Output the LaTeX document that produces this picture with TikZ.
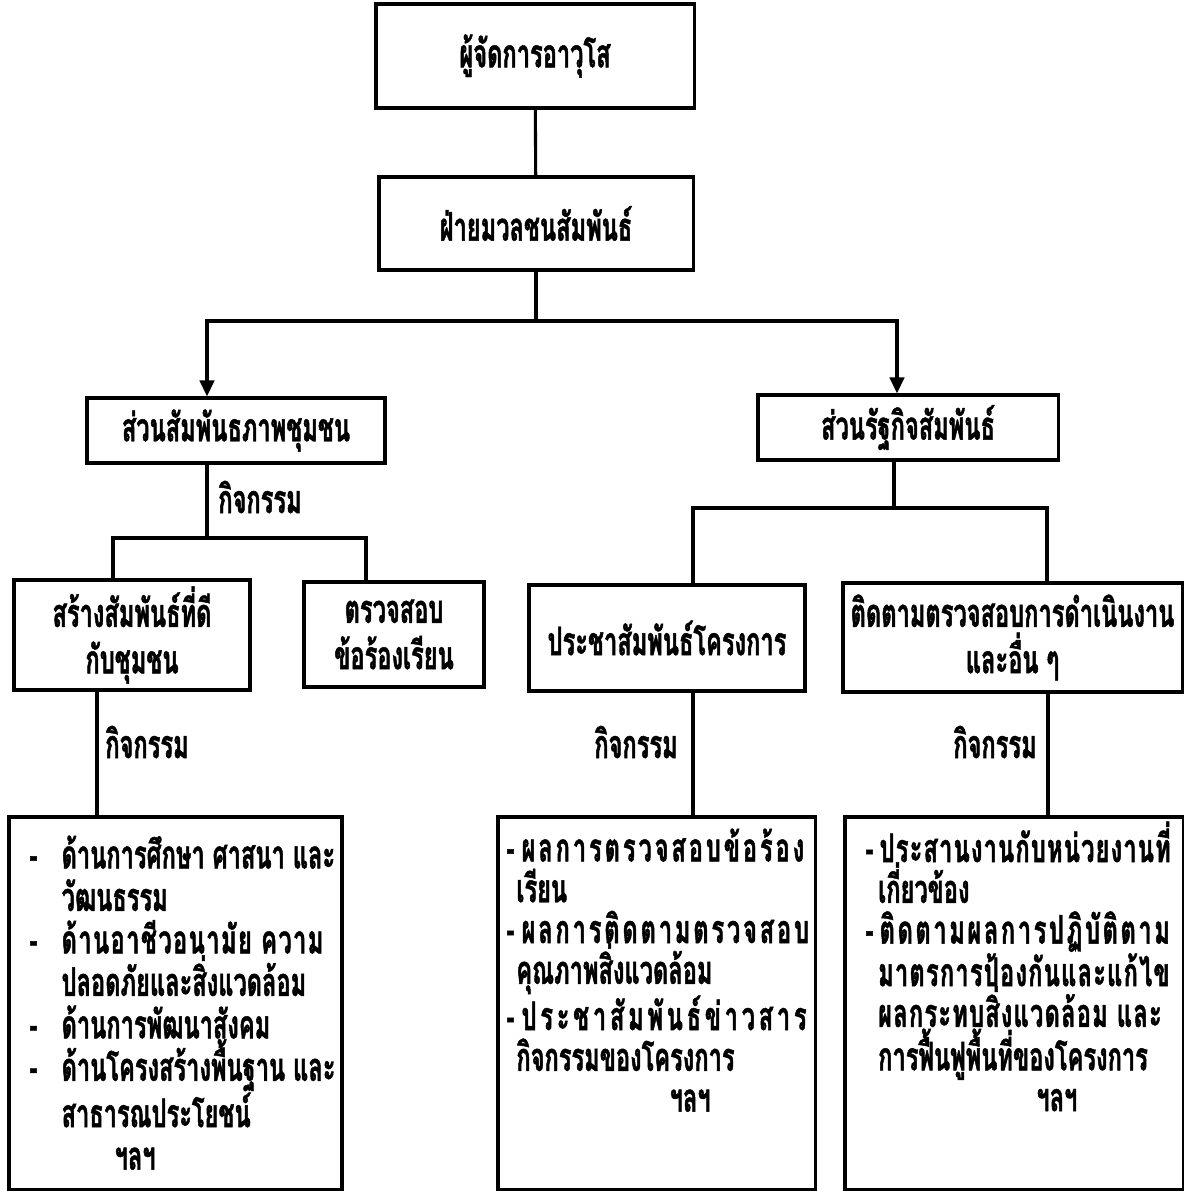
\documentclass[tikz,border=0pt]{standalone}
\usepackage{fontspec}
\newfontfamily\thaifont[Script=Thai, FakeStretch=0.6, BoldFeatures={FakeBold=1.2}]{Loma}
\usetikzlibrary{arrows.meta}

\begin{document}
\begin{tikzpicture}[>={Triangle[length=4mm, width=3.6mm]}, x=0.025cm, y=-0.025cm, line width=2.2pt,
    font=\thaifont\bfseries\fontsize{28}{33}\selectfont]
        \tikzstyle{box}=[draw, line width=2.2pt, align=center, inner sep=0pt]
        \tikzstyle{lbl}=[inner sep=0pt]
        \tikzstyle{lst}=[align=left, inner sep=0pt, anchor=north west]

        \useasboundingbox (0,0) rectangle (1184,1191);

        % Boxes
        \node[box, minimum width=7.95cm, minimum height=2.6cm] (top) at (535,56) {ผู้จัดการอาวุโส};
        \node[box, minimum width=7.85cm, minimum height=2.325cm] (fai) at (536,223.5) {ฝ่ายมวลชนสัมพันธ์};
        \node[box, minimum width=7.45cm, minimum height=1.625cm] (sm) at (236,430.5) {ส่วนสัมพันธภาพชุมชน};
        \node[box, minimum width=7.5cm, minimum height=1.625cm] (rk) at (908,427.5) {ส่วนรัฐกิจสัมพันธ์};
        \node[box, minimum width=5.9cm, minimum height=2.75cm] (sa) at (132,635) {สร้างสัมพันธ์ที่ดี\\กับชุมชน};
        \node[box, minimum width=4.5cm, minimum height=2.625cm] (tr) at (394,634.5) {ตรวจสอบ\\ข้อร้องเรียน};
        \node[box, minimum width=6.9cm, minimum height=2.65cm] (pr) at (667,638) {ประชาสัมพันธ์โครงการ};
        \node[box, minimum width=8.475cm, minimum height=2.725cm] (tt) at (1012.5,637.5) {ติดตามตรวจสอบการดำเนินงาน\\และอื่น ๆ};
        \node[box, minimum width=8.325cm, minimum height=9.3cm] (bl) at (175.5,1003) {};
        \node[box, minimum width=7.925cm, minimum height=9.3cm] (bm) at (656.5,1003) {};
        \node[box, minimum width=8.45cm, minimum height=9.3cm] (br) at (1014,1003) {};

        % Labels
        \node[lbl] (k1) at (260,497) {กิจกรรม};
        \node[lbl] (k2) at (147,742) {กิจกรรม};
        \node[lbl] (k3) at (636,742) {กิจกรรม};
        \node[lbl] (k4) at (995,742) {กิจกรรม};

        % Lists
        \node[lst, font=\thaifont\bfseries\fontsize{28}{30.2}\selectfont] (lstL) at (28,834) {%
            \makebox[22.8pt][l]{-}ด้านการศึกษา ศาสนา และ\\
            \hspace*{22.8pt}วัฒนธรรม\\
            \makebox[22.8pt][l]{-}{\addfontfeature{LetterSpace=3.6}ด้านอาชีวอนามัย ความ}\\
            \hspace*{22.8pt}ปลอดภัยและสิ่งแวดล้อม\\
            \makebox[22.8pt][l]{-}ด้านการพัฒนาสังคม\\
            \makebox[22.8pt][l]{-}ด้านโครงสร้างพื้นฐาน และ\\
            \hspace*{22.8pt}สาธารณประโยชน์\\
            \hspace*{60.5pt}ฯลฯ};
        \node[lst, font=\thaifont\bfseries\fontsize{28}{29}\selectfont] (lstM) at (505,827) {%
            \makebox[10.7pt][l]{-}{\addfontfeature{LetterSpace=7.4}ผลการตรวจสอบข้อร้อง}\\
            \hspace*{7pt}เรียน\\
            \makebox[10.7pt][l]{-}{\addfontfeature{LetterSpace=7.2}ผลการติดตามตรวจสอบ}\\
            \hspace*{7pt}คุณภาพสิ่งแวดล้อม\\
            \makebox[10.7pt][l]{-}{\addfontfeature{LetterSpace=9.5}ประชาสัมพันธ์ข่าวสาร}\\
            \hspace*{7pt}กิจกรรมของโครงการ\\
            \hspace*{116pt}ฯลฯ};
        \node[lst, font=\thaifont\bfseries\fontsize{28}{29}\selectfont] (lstR) at (864,820) {%
            \makebox[10pt][l]{-}{\addfontfeature{LetterSpace=3}ประสานงานกับหน่วยงานที่}\\
            \hspace*{9pt}เกี่ยวข้อง\\
            \makebox[10pt][l]{-}{\addfontfeature{LetterSpace=6.6}ติดตามผลการปฏิบัติตาม}\\
            \hspace*{9pt}{\addfontfeature{LetterSpace=3.1}มาตรการป้องกันและแก้ไข}\\
            \hspace*{9pt}{\addfontfeature{LetterSpace=3.1}ผลกระทบสิ่งแวดล้อม และ}\\
            \hspace*{9pt}การฟื้นฟูพื้นที่ของโครงการ\\
            \hspace*{121.5pt}ฯลฯ};

        % Junctions
        \coordinate (hL) at (207,321);
        \coordinate (hR) at (897,321);
        \coordinate (tL) at (113,538);
        \coordinate (tM) at (207,538);
        \coordinate (tR) at (366,538);
        \coordinate (uL) at (693,508);
        \coordinate (uM) at (894,508);
        \coordinate (uR) at (1047,508);
        \coordinate (vL) at (97,750);
        \coordinate (vM) at (693,750);
        \coordinate (vR) at (1048,750);

        % Connectors
        \draw (top) -- (fai);
        \draw (fai.south) -- (fai.south |- hL);
        \draw[<->] (hL |- sm.north) -- (hL) -- (hR) -- (hR |- rk.north);
        \draw (tM |- sm.south) -- (tM);
        \draw (tL |- sa.north) -- (tL) -- (tR) -- (tR |- tr.north);
        \draw (uM |- rk.south) -- (uM);
        \draw (uL |- pr.north) -- (uL) -- (uR) -- (uR |- tt.north);
        \draw (vL |- sa.south) -- (vL |- bl.north);
        \draw (vM |- pr.south) -- (vM |- bm.north);
        \draw (vR |- tt.south) -- (vR |- br.north);
\end{tikzpicture}
\end{document}
